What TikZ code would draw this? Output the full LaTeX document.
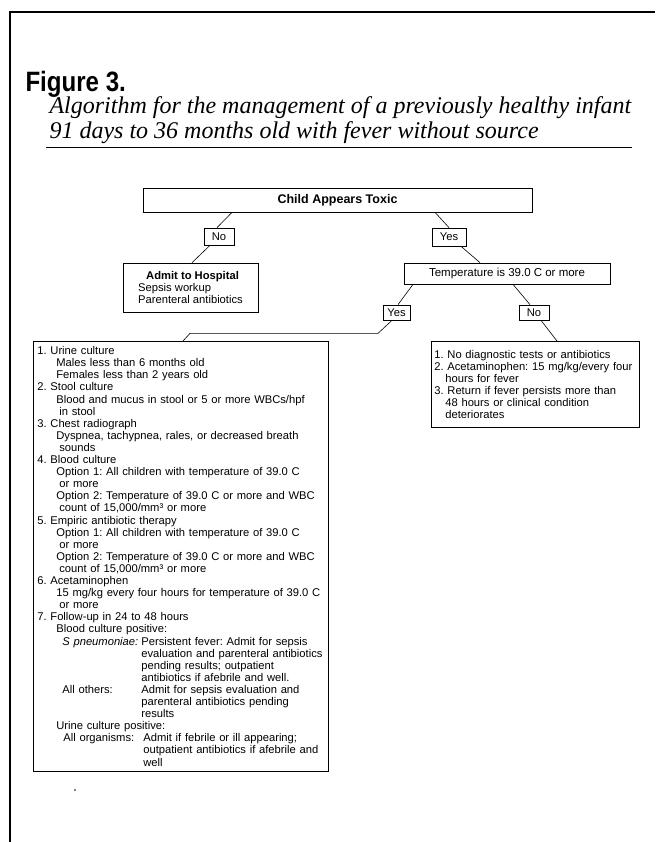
\documentclass[tikz,border=0pt]{standalone}
\usepackage{fontspec}
\setmainfont{Liberation Sans}
\newfontfamily\capfont{Liberation Serif}
\newfontfamily\figfont[FakeStretch=0.86]{Liberation Sans}
\frenchspacing
\tikzset{
  box/.style={draw, line width=0.7pt, inner sep=0pt, font=\fontsize{11.2}{12.1}\selectfont},
  answer/.style={box, minimum height=15pt},
  link/.style={line width=0.6pt}
}
\begin{document}
\begin{tikzpicture}[x=1pt,y=-1pt]
                \useasboundingbox (0,0) rectangle (655,842);
                \def\subind{\hspace*{19pt}}
                \def\contind{\hspace*{22pt}}
                \def\hangind{\hspace*{104pt}}
                %% frame and heading
                \draw[line width=1.1pt] (10,842) -- (10,12) -- (655,12);
                \node[anchor=base west, font=\figfont\fontsize{28}{28}\selectfont\bfseries] (fig) at (22,92) {Figure 3.};
                \node[anchor=base west, font=\capfont\fontsize{24}{26}\selectfont\itshape] (cap1) at (46,114) {Algorithm for the management of a previously healthy infant};
                \node[anchor=base west, font=\capfont\fontsize{24}{26}\selectfont\itshape] (cap2) at (46,139) {91 days to 36 months old with fever without source};
                \draw[line width=0.9pt] (46,147) -- (632,147);
                %% decision boxes
                \node[box, minimum width=389pt, minimum height=24pt, font=\fontsize{12.5}{14}\selectfont\bfseries] (toxic) at (337.5,200) {Child Appears Toxic};
                \node[answer, minimum width=30pt, minimum height=17pt] (no1) at (219,236.5) {No};
                \node[answer, minimum width=34pt, minimum height=18pt] (yes1) at (449,237) {Yes};
                \node[box, minimum width=135pt, minimum height=49pt, align=left] (admit) at (190.5,287.5) {\hspace*{8pt}\textbf{Admit to Hospital}\\Sepsis workup\\Parenteral antibiotics};
                \node[box, minimum width=206pt, minimum height=21pt, font=\fontsize{11.5}{13}\selectfont] (temp) at (507,273.5) {Temperature is 39.0 C or more};
                \node[answer, minimum width=27pt] (yes2) at (396.5,312.5) {Yes};
                \node[answer, minimum width=30pt] (no2) at (534,312.5) {No};
                %% work-up list
                \node[box, anchor=north west, text width=287pt, inner xsep=4pt, minimum height=430pt, align=left] (workup) at (33,341) {1. Urine culture\\
                  \subind Males less than 6 months old\\
                  \subind Females less than 2 years old\\
                  2. Stool culture\\
                  \subind Blood and mucus in stool or 5 or more WBCs/hpf\\
                  \contind in stool\\
                  3. Chest radiograph\\
                  \subind Dyspnea, tachypnea, rales, or decreased breath\\
                  \contind sounds\\
                  4. Blood culture\\
                  \subind Option 1: All children with temperature of 39.0 C\\
                  \contind or more\\
                  \subind Option 2: Temperature of 39.0 C or more and WBC\\
                  \contind count of 15,000/mm³ or more\\
                  5. Empiric antibiotic therapy\\
                  \subind Option 1: All children with temperature of 39.0 C\\
                  \contind or more\\
                  \subind Option 2: Temperature of 39.0 C or more and WBC\\
                  \contind count of 15,000/mm³ or more\\
                  6. Acetaminophen\\
                  \subind 15 mg/kg every four hours for temperature of 39.0 C\\
                  \contind or more\\
                  7. Follow-up in 24 to 48 hours\\
                  \subind Blood culture positive:\\
                  \hspace*{25pt}\makebox[79pt][l]{\textit{S pneumoniae:}}Persistent fever: Admit for sepsis\\
                  \hangind evaluation and parenteral antibiotics\\
                  \hangind pending results; outpatient\\
                  \hangind antibiotics if afebrile and well.\\
                  \hspace*{25pt}\makebox[79pt][l]{All others:}Admit for sepsis evaluation and\\
                  \hangind parenteral antibiotics pending\\
                  \hangind results\\
                  \subind Urine culture positive:\\
                  \hspace*{26pt}\makebox[80pt][l]{All organisms:}Admit if febrile or ill appearing;\\
                  \hspace*{106pt}outpatient antibiotics if afebrile and\\
                  \hspace*{106pt}well};
                \node[box, anchor=north west, text width=202pt, inner xsep=3pt, minimum height=86pt, align=left] (home) at (431,341) {1. No diagnostic tests or antibiotics\\
                  2. Acetaminophen: 15 mg/kg/every four\\
                  \hspace*{11pt}hours for fever\\
                  3. Return if fever persists more than\\
                  \hspace*{11pt}48 hours or clinical condition\\
                  \hspace*{11pt}deteriorates};
                %% connectors
                \draw[link] ([xshift=-105.5pt]toxic.south) -- ([xshift=-2pt]no1.north);
                \draw[link] ([xshift=-9pt]no1.south) -- ([xshift=1.5pt]admit.north);
                \draw[link] ([xshift=97.5pt]toxic.south) -- (yes1.north);
                \draw[link] ([xshift=12pt]yes1.south) -- ([xshift=-27pt]temp.north);
                \draw[link] ([xshift=-94pt]temp.south) -- ([xshift=1.5pt]yes2.north);
                \draw[link] ([xshift=6pt]temp.south) -- ([xshift=-4pt]no2.north);
                \draw[link] ([xshift=-4.5pt]yes2.south) -- ++(-14,13) -- ++(-188,0) -- ([xshift=150pt]workup.north west);
                \draw[link] ([xshift=7pt]no2.south) -- ([xshift=126pt]home.north west);
                \fill (75,790) circle (0.8);
            \end{tikzpicture}
\end{document}
